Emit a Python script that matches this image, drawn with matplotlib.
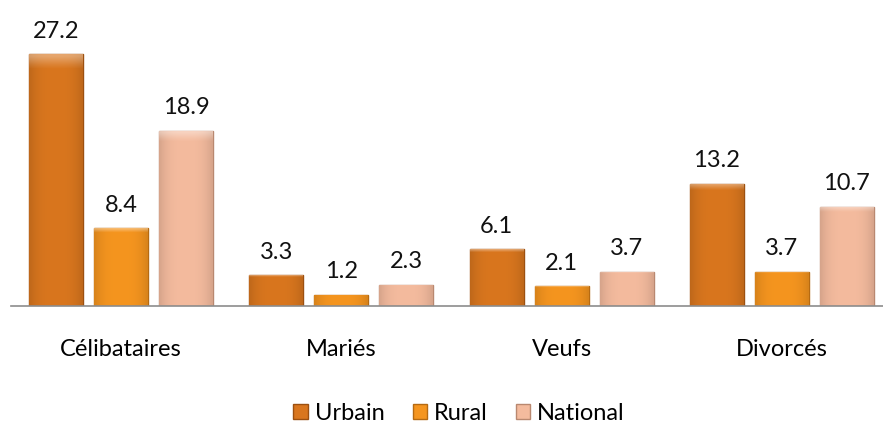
import numpy as np
import matplotlib.pyplot as plt
import matplotlib.colors as mcolors
from matplotlib.patches import Patch

plt.rcParams['font.family'] = ['Lato', 'DejaVu Sans']

categories = ["Célibataires", "Mariés", "Veufs", "Divorcés"]
urbain = [27.2, 3.3, 6.1, 13.2]
rural = [8.4, 1.2, 2.1, 3.7]
national = [18.9, 2.3, 3.7, 10.7]

series = [("Urbain", urbain, "#D9761E", "#9C5010"),
          ("Rural", rural, "#F5951F", "#B56A12"),
          ("National", national, "#F4BB9E", "#B98870")]

fig = plt.figure(figsize=(8.83, 4.26), dpi=100)
ax = fig.add_axes([11 / 883, 0.282, 881 / 883, 0.652])

x = np.arange(len(categories))
offsets = [-0.295, 0.0, 0.295]
w = 0.245


def bevel(ax, bar, fc):
    # léger effet biseauté : bords plus sombres, haut plus clair
    rgb = np.array(mcolors.to_rgb(fc))
    nx, ny = 40, 60
    u = np.linspace(0, 1, nx)
    shade = 1 - 0.12 * (np.abs(u - 0.5) * 2) ** 3
    img = np.ones((ny, nx, 3)) * rgb
    img = img * shade[None, :, None]
    top = np.zeros(ny)
    top[:3] = np.linspace(0.35, 0.1, 3)
    img = img + (1 - img) * top[:, None, None]
    img = np.clip(img, 0, 1)
    x0, y0 = bar.get_x(), bar.get_y()
    im = ax.imshow(img, extent=(x0, x0 + bar.get_width(), y0, y0 + bar.get_height()),
                   origin="upper", aspect="auto", zorder=bar.get_zorder() + 0.1,
                   interpolation="bilinear")
    im.set_clip_path(bar)


for (name, vals, fc, ec), off in zip(series, offsets):
    bars = ax.bar(x + off, vals, width=w, color=fc, edgecolor=ec, linewidth=1.0)
    for b, v in zip(bars, vals):
        bevel(ax, b, fc)
        ax.annotate(f"{v:.1f}", (b.get_x() + b.get_width() / 2, v),
                    xytext=(0, 9), textcoords="offset points",
                    ha="center", va="bottom", fontsize=17, color="#111111")

ax.set_xlim(-0.5, 3.5)
ax.set_ylim(0, 30)
ax.set_xticks(x)
ax.set_xticklabels(categories, fontsize=17)
ax.tick_params(axis="x", length=0, pad=24)
ax.set_yticks([])
for s in ["top", "right", "left"]:
    ax.spines[s].set_visible(False)
ax.spines["bottom"].set_color("#8C8C8C")
ax.spines["bottom"].set_linewidth(1.2)

handles = [Patch(facecolor=fc, edgecolor=ec, label=name) for name, _, fc, ec in series]
fig.legend(handles=handles, loc="center", bbox_to_anchor=(0.52, 0.03), ncol=3,
           frameon=False, fontsize=17, handlelength=0.6, handleheight=0.6,
           handletextpad=0.3, columnspacing=1.2)

fig.savefig("out.png", dpi=100)
